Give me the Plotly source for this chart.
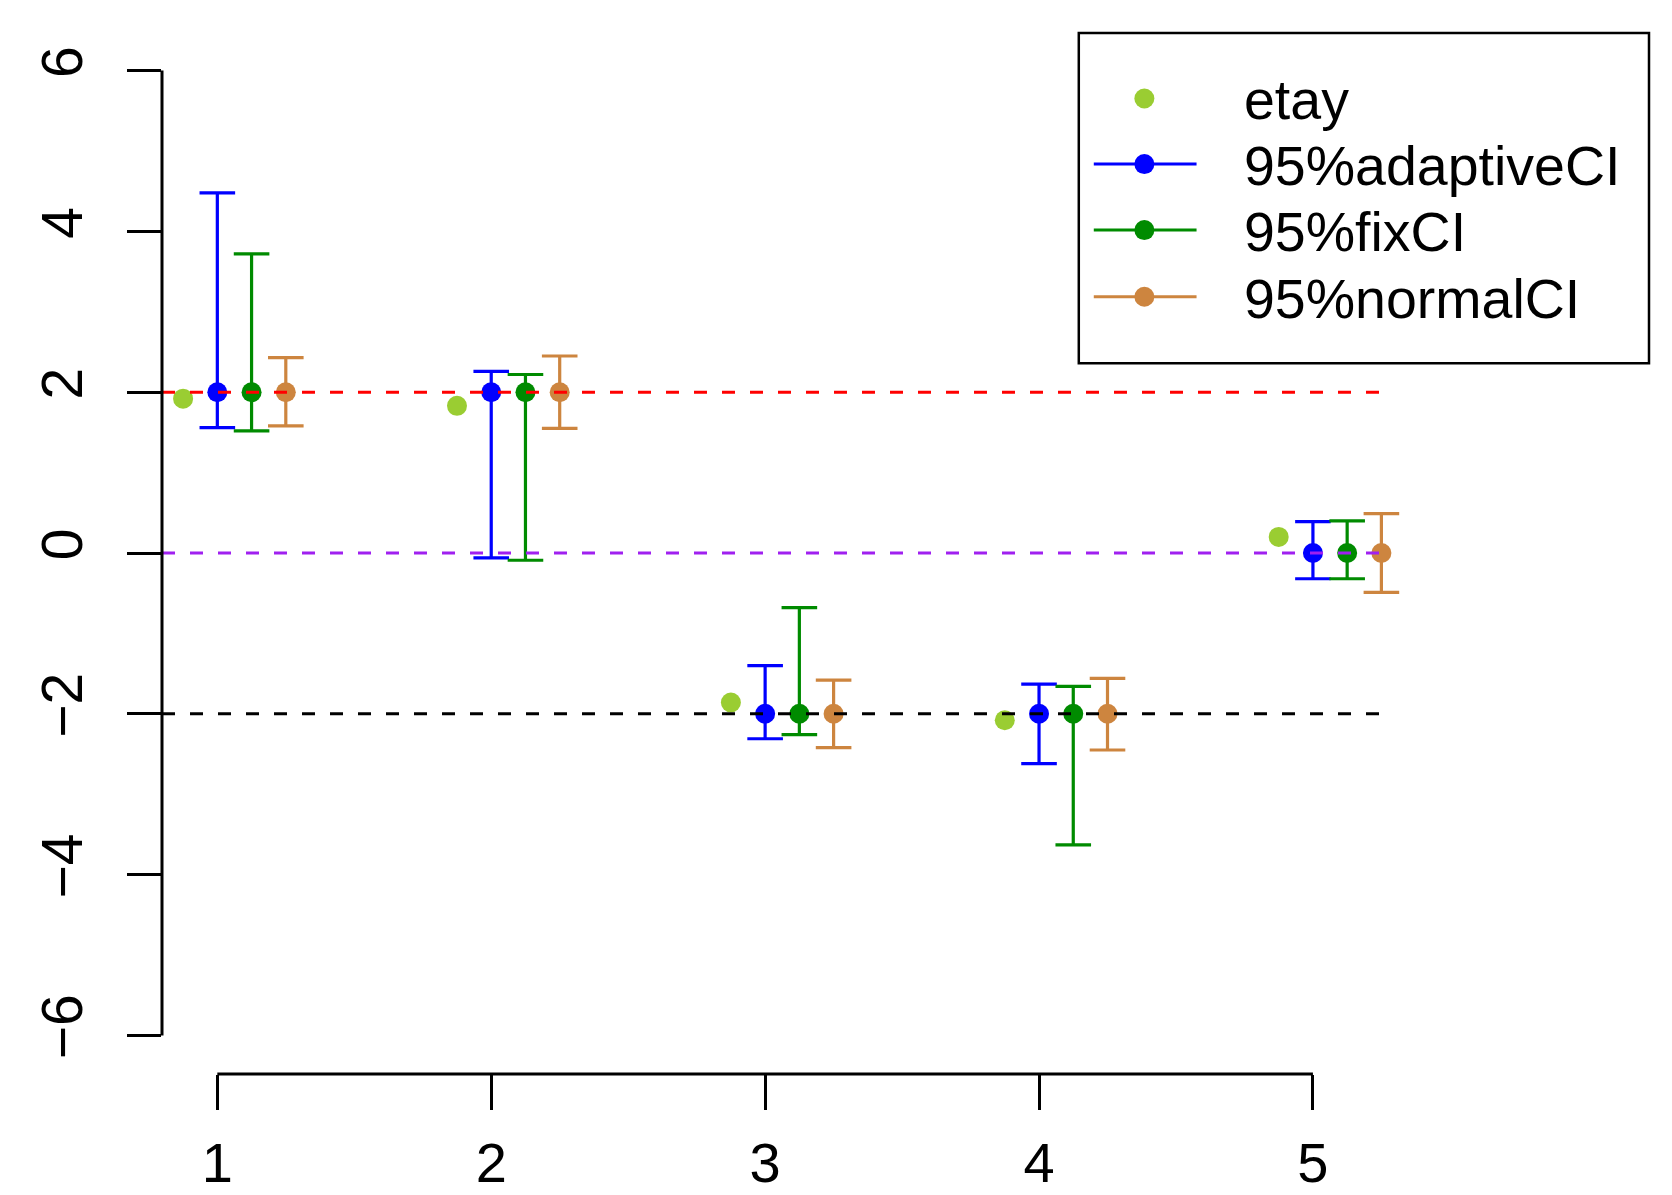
import plotly.graph_objects as go

# ---------------- data ----------------
groups = [1, 2, 3, 4, 5]
etay = [1.92, 1.83, -1.86, -2.08, 0.20]

adaptive_mid = [2, 2, -2, -2, 0]
adaptive_lo = [1.56, -0.06, -2.31, -2.62, -0.32]
adaptive_hi = [4.48, 2.26, -1.40, -1.63, 0.39]

fix_mid = [2, 2, -2, -2, 0]
fix_lo = [1.52, -0.09, -2.26, -3.63, -0.32]
fix_hi = [3.72, 2.22, -0.68, -1.66, 0.40]

normal_mid = [2, 2, -2, -2, 0]
normal_lo = [1.58, 1.55, -2.42, -2.45, -0.49]
normal_hi = [2.43, 2.45, -1.58, -1.56, 0.49]

ref_levels = [2, 0, -2]
ref_colors = ["#FF0000", "#A020F0", "#000000"]

y_ticks = [-6, -4, -2, 0, 2, 4, 6]
x_ticks = [1, 2, 3, 4, 5]

legend_labels = ["etay", "95%adaptiveCI", "95%fixCI", "95%normalCI"]

# ---------------- styles ----------------
C_ETAY = "#9ACD32"
C_ADAPT = "#0000FF"
C_FIX = "#008B00"
C_NORM = "#CD853F"
FONT = "Liberation Sans, Arial, Helvetica, sans-serif"

W, H = 1672, 1195
M_L, M_R, M_T, M_B = 161.5, 23, 31.8, 120.5
X_RANGE = [0.798, 6.227]
Y_RANGE = [-6.48, 6.48]
REF_END = 5.25

offsets = {"etay": -0.125, "adaptive": 0.0, "fix": 0.125, "normal": 0.25}

fig = go.Figure()


def shifted(off):
    return [g + off for g in groups]


fig.add_trace(go.Scatter(
    x=shifted(offsets["etay"]), y=etay, mode="markers", name=legend_labels[0],
    marker=dict(color=C_ETAY, size=20), showlegend=False))

for key, mid, lo, hi, col, lab in [
    ("adaptive", adaptive_mid, adaptive_lo, adaptive_hi, C_ADAPT, legend_labels[1]),
    ("fix", fix_mid, fix_lo, fix_hi, C_FIX, legend_labels[2]),
    ("normal", normal_mid, normal_lo, normal_hi, C_NORM, legend_labels[3]),
]:
    fig.add_trace(go.Scatter(
        x=shifted(offsets[key]), y=mid, mode="markers", name=lab,
        marker=dict(color=col, size=20), showlegend=False,
        error_y=dict(type="data", symmetric=False,
                     array=[h - m for h, m in zip(hi, mid)],
                     arrayminus=[m - l for m, l in zip(mid, lo)],
                     color=col, thickness=3.2, width=17.8)))

shapes = []
# reference dashed lines (drawn on top)
for lev, col in zip(ref_levels, ref_colors):
    shapes.append(dict(type="line", xref="x", yref="y", x0=X_RANGE[0], x1=REF_END,
                       y0=lev, y1=lev, layer="above",
                       line=dict(color=col, width=3, dash="13px,15px")))

# R-style axis lines (only between extreme ticks)
shapes.append(dict(type="line", xref="paper", yref="y", x0=0, x1=0,
                   y0=min(y_ticks), y1=max(y_ticks), line=dict(color="black", width=3)))
shapes.append(dict(type="line", xref="x", yref="paper", x0=min(x_ticks), x1=max(x_ticks),
                   y0=0, y1=0, line=dict(color="black", width=3)))

# ---------------- manual legend (R style) ----------------
pw = W - M_L - M_R
ph = H - M_T - M_B


def px_x(px):
    return (px - M_L) / pw


def px_y(py):
    return 1 - (py - M_T) / ph


box = (1078.6, 32.7, 1649, 363.3)
shapes.append(dict(type="rect", xref="paper", yref="paper",
                   x0=px_x(box[0]), x1=px_x(box[2]), y0=px_y(box[3]), y1=px_y(box[1]),
                   line=dict(color="black", width=2.5), fillcolor="white", layer="above"))

row_y = [98.3, 164.0, 230.0, 296.7]
leg_cols = [C_ETAY, C_ADAPT, C_FIX, C_NORM]
sym_x = 1144.2
annotations = []
for i, (lab, col, ry) in enumerate(zip(legend_labels, leg_cols, row_y)):
    if i > 0:
        shapes.append(dict(type="line", xref="paper", yref="paper",
                           x0=px_x(1093.6), x1=px_x(1196.4), y0=px_y(ry), y1=px_y(ry),
                           line=dict(color=col, width=3), layer="above"))
    shapes.append(dict(type="circle", xref="paper", yref="paper",
                       xsizemode="pixel", ysizemode="pixel",
                       xanchor=px_x(sym_x), yanchor=px_y(ry),
                       x0=-10, x1=10, y0=-10, y1=10,
                       fillcolor=col, line=dict(color=col, width=0), layer="above"))
    annotations.append(dict(xref="paper", yref="paper", x=px_x(1242), y=px_y(ry + 2),
                            xanchor="left", yanchor="middle", text=lab, showarrow=False,
                            font=dict(family=FONT, size=55.5, color="black")))

fig.update_layout(
    width=W, height=H,
    margin=dict(l=M_L, r=M_R, t=M_T, b=M_B, pad=0, autoexpand=False),
    paper_bgcolor="white", plot_bgcolor="white",
    showlegend=False,
    shapes=shapes, annotations=annotations,
    xaxis=dict(range=X_RANGE, tickvals=x_ticks, ticktext=[str(v) for v in x_ticks],
               ticks="outside", ticklen=35, tickwidth=3, tickcolor="black",
               showgrid=False, zeroline=False, showline=False, automargin=False,
               tickfont=dict(family=FONT, size=56, color="black"), ticklabelstandoff=5),
    yaxis=dict(range=Y_RANGE, tickvals=y_ticks,
               ticktext=[("\u2212" + str(-v)) if v < 0 else str(v) for v in y_ticks],
               ticks="outside", ticklen=34, tickwidth=3, tickcolor="black",
               showgrid=False, zeroline=False, showline=False, tickangle=-90, automargin=False,
               tickfont=dict(family=FONT, size=57, color="black"), ticklabelstandoff=22),
)

fig.write_html("out.html", config={"displayModeBar": False},
               post_script="document.body.style.margin='0';document.body.style.overflow='hidden';")
